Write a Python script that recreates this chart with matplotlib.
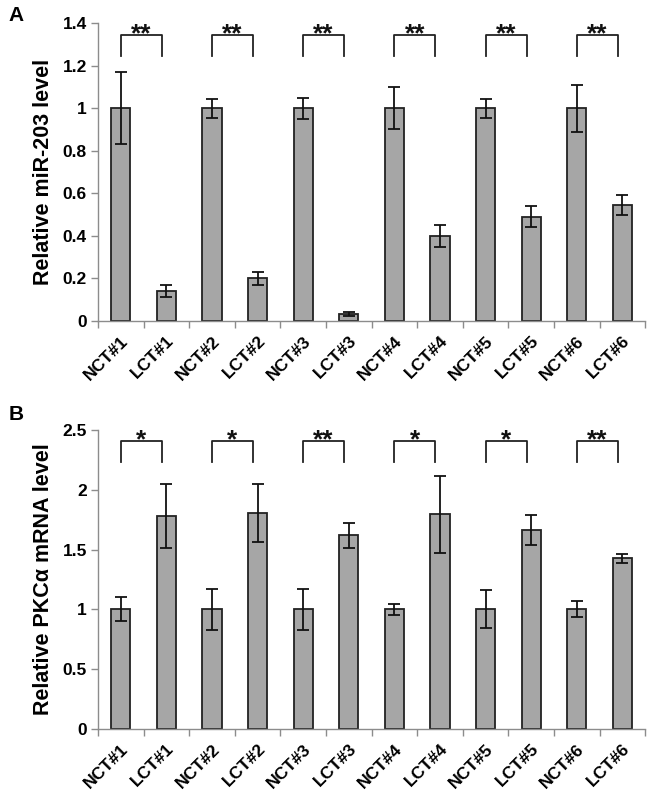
import matplotlib
matplotlib.use("Agg")
import matplotlib.pyplot as plt
import matplotlib.transforms as mtransforms
import numpy as np

plt.rcParams['font.family'] = ['Liberation Sans', 'DejaVu Sans']
plt.rcParams['font.weight'] = 'bold'

categories = ["NCT#1", "LCT#1", "NCT#2", "LCT#2", "NCT#3", "LCT#3",
              "NCT#4", "LCT#4", "NCT#5", "LCT#5", "NCT#6", "LCT#6"]

mir_values = [1.0, 0.14, 1.0, 0.20, 1.0, 0.033, 1.0, 0.40, 1.0, 0.49, 1.0, 0.545]
mir_errors = [0.17, 0.03, 0.045, 0.03, 0.05, 0.01, 0.10, 0.053, 0.045, 0.05, 0.11, 0.045]
mir_stars = ["**", "**", "**", "**", "**", "**"]

pkc_values = [1.0, 1.78, 1.0, 1.805, 1.0, 1.62, 1.0, 1.795, 1.0, 1.665, 1.0, 1.425]
pkc_errors = [0.10, 0.265, 0.17, 0.24, 0.17, 0.105, 0.045, 0.32, 0.16, 0.125, 0.068, 0.035]
pkc_stars = ["*", "*", "**", "*", "*", "**"]

fig = plt.figure(figsize=(6.53, 8.0), dpi=100)

spine_col = '#8c8c8c'

def panel(rect, values, errors, stars, ymax, ystep, ylabel, br_top, br_bot, letter, letter_y):
    ax = fig.add_axes(rect)
    x = np.arange(len(categories))
    ax.bar(x, values, width=0.42, color='#a6a6a6', edgecolor='#222222', linewidth=1.3, zorder=2)
    ax.errorbar(x, values, yerr=errors, fmt='none', ecolor='#111111', elinewidth=1.3,
                capsize=4, capthick=1.3, zorder=3)
    ax.set_xlim(-0.5, len(categories) - 0.5)
    ax.set_ylim(0, ymax)
    yt = np.round(np.arange(0, ymax + 1e-9, ystep), 2)
    ax.set_yticks(yt)
    ax.set_yticklabels([('%g' % v) for v in yt], fontsize=12.5, fontweight='bold')
    ax.set_xticks(np.arange(-0.5, len(categories), 1.0))
    ax.set_xticklabels([])
    ax.set_xticks(x, minor=True)
    ax.set_xticklabels(categories, minor=True, rotation=45, ha='right',
                       rotation_mode='anchor', fontsize=12.5, fontweight='bold')
    ax.tick_params(axis='x', which='minor', length=0, pad=9)
    ax.tick_params(axis='x', which='major', length=5, color=spine_col, width=1)
    ax.tick_params(axis='y', length=5, color=spine_col, width=1, pad=3)
    for s in ['top', 'right']:
        ax.spines[s].set_visible(False)
    for s in ['left', 'bottom']:
        ax.spines[s].set_color(spine_col)
        ax.spines[s].set_linewidth(1.0)
    ax.set_ylabel(ylabel, fontsize=15.5, fontweight='bold', labelpad=6)
    off = mtransforms.offset_copy(ax.transData, fig=fig, x=0, y=-4.5, units='points')
    for i, st in enumerate(stars):
        x0 = 2 * i
        x1 = 2 * i + 0.9
        ax.plot([x0, x0, x1, x1], [br_bot, br_top, br_top, br_bot], color='#222222',
                lw=1.3, clip_on=False, zorder=3)
        ax.text((x0 + x1) / 2, br_top, st, ha='center', va='baseline', transform=off,
                fontsize=19, fontweight='bold', color='#111111', zorder=4)
    fig.text(0.013, letter_y, letter, fontsize=15, fontweight='bold', va='center')
    return ax

panel([0.150, 0.599, 0.838, 0.372], mir_values, mir_errors, mir_stars, 1.4, 0.2,
      'Relative miR-203 level', 1.343, 1.244, 'A', 0.981)
panel([0.150, 0.089, 0.838, 0.3735], pkc_values, pkc_errors, pkc_stars, 2.5, 0.5,
      'Relative PKC\u03b1 mRNA level', 2.41, 2.235, 'B', 0.482)

fig.savefig('out.png', dpi=100)
